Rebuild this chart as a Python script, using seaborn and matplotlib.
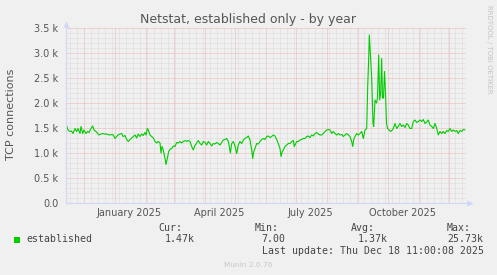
import numpy as np
import pandas as pd
import matplotlib
matplotlib.use("Agg")
import matplotlib.pyplot as plt
import matplotlib.dates as mdates
from matplotlib.ticker import MultipleLocator, FuncFormatter, NullFormatter
from matplotlib.patches import Rectangle
import seaborn as sns

# ---------------- data ----------------
start_date = "2024-11-13"
end_date = "2025-12-18"

day_offset = [
    1.2, 2.5, 4.5, 6.0, 7.5, 9.5, 11.2, 12.5, 14.5, 15.5, 17.2, 18.5, 20.5, 22.2, 23.5,
    25.5, 27.2, 28.5, 30.5, 32.2, 33.5, 35.5, 37.2, 38.5, 40.5, 42.5, 44.5, 46.5, 47.8,
    49.5, 51.2, 52.5, 54.5, 56.2, 57.5, 59.5, 61.2, 62.8, 64.5, 66.2, 67.8, 69.5, 71.2,
    72.8, 74.5, 76.2, 77.8, 79.5, 80.5, 81.8, 82.8, 84.5, 86.2, 87.8, 89.5, 91.2, 92.8,
    94.5, 95.5, 96.5, 97.8, 98.8, 99.8, 100.5, 101.8, 103.2, 104.5, 106.2, 107.8, 109.5,
    111.2, 112.8, 114.5, 116.2, 117.8, 119.5, 121.2, 122.8, 124.5, 126.2, 127.8, 129.5,
    131.2, 132.8, 134.5, 136.2, 137.8, 139.5, 141.2, 142.8, 144.5, 146.2, 147.8, 149.5,
    151.2, 152.8, 154.5, 156.2, 157.8, 159.5, 161.2, 162.8, 163.8, 164.8, 166.2, 167.8,
    169.5, 171.2, 172.8, 174.5, 176.2, 177.8, 179.5, 181.2, 182.8, 184.5, 186.2, 187.2,
    188.2, 189.5, 191.2, 192.8, 194.5, 196.2, 197.8, 199.5, 201.2, 202.8, 204.5, 206.2,
    207.8, 209.5, 211.2, 212.8, 214.5, 215.5, 216.8, 217.8, 219.5, 221.2, 222.8, 224.5,
    226.2, 227.8, 228.8, 230.2, 231.2, 232.8, 234.5, 236.2, 237.8, 239.5, 241.2, 242.8,
    244.5, 246.2, 247.8, 249.5, 251.2, 252.8, 254.5, 256.2, 257.8, 259.5, 261.2, 262.8,
    264.5, 266.2, 267.8, 269.5, 271.2, 272.8, 274.5, 276.2, 277.8, 279.5, 281.2, 282.8,
    284.5, 286.2, 287.2, 288.5, 289.5, 291.2, 292.8, 294.5, 296.2, 297.8, 299.5, 301.2,
    302.2, 303.2, 303.8, 305.2, 306.2, 307.5, 308.2, 309.5, 311.0, 312.0, 313.2, 314.2,
    315.2, 316.2, 317.0, 318.0, 319.0, 320.0, 321.0, 322.0, 323.5, 325.2, 326.8, 327.8,
    329.5, 331.2, 332.8, 334.5, 336.2, 337.8, 339.5, 341.2, 342.8, 344.5, 346.2, 347.8,
    349.5, 351.2, 352.8, 354.5, 356.2, 357.8, 359.5, 361.2, 362.8, 364.5, 366.2, 367.8,
    369.5, 371.2, 372.8, 374.5, 376.2, 377.8, 379.5, 381.2, 382.8, 384.5, 386.2, 387.8,
    389.5, 391.2, 392.8, 394.5, 396.2, 397.8, 399.5,
]

conn_k = [
    1.54, 1.46, 1.43, 1.44, 1.39, 1.49, 1.43, 1.49, 1.39, 1.53, 1.39, 1.46, 1.39, 1.43, 1.41,
    1.49, 1.54, 1.46, 1.43, 1.39, 1.36, 1.38, 1.39, 1.38, 1.38, 1.37, 1.36, 1.37, 1.36,
    1.29, 1.33, 1.36, 1.38, 1.39, 1.33, 1.35, 1.27, 1.23, 1.27, 1.30, 1.33, 1.36, 1.30,
    1.38, 1.33, 1.38, 1.35, 1.41, 1.36, 1.49, 1.46, 1.36, 1.33, 1.30, 1.23, 1.20, 1.23,
    1.20, 1.00, 1.13, 1.06, 0.96, 0.86, 0.77, 0.89, 1.03, 1.07, 1.09, 1.14, 1.13,
    1.21, 1.20, 1.23, 1.20, 1.23, 1.25, 1.23, 1.25, 1.23, 1.13, 1.06, 1.15,
    1.20, 1.25, 1.19, 1.16, 1.23, 1.21, 1.16, 1.23, 1.19, 1.14, 1.19, 1.18,
    1.21, 1.19, 1.16, 1.21, 1.26, 1.27, 1.29, 1.23, 1.13, 1.00, 1.19, 1.23,
    1.14, 0.99, 1.16, 1.23, 1.19, 1.26, 1.29, 1.31, 1.34, 1.26, 1.06, 0.89,
    1.03, 1.09, 1.19, 1.18, 1.23, 1.27, 1.29, 1.27, 1.33, 1.34, 1.31, 1.33,
    1.36, 1.34, 1.27, 1.19, 1.09, 0.93, 1.03, 1.06, 1.13, 1.16, 1.19, 1.19,
    1.23, 1.25, 1.13, 1.19, 1.23, 1.23, 1.26, 1.27, 1.29, 1.29, 1.33, 1.34,
    1.31, 1.36, 1.34, 1.39, 1.41, 1.38, 1.36, 1.36, 1.39, 1.43, 1.46, 1.47,
    1.46, 1.39, 1.43, 1.39, 1.36, 1.39, 1.36, 1.37, 1.33, 1.36, 1.39, 1.36,
    1.33, 1.23, 1.13, 1.29, 1.33, 1.39, 1.36, 1.39, 1.43, 1.29, 1.46, 1.49,
    2.33, 2.90, 3.36, 2.86, 2.50, 1.60, 1.53, 2.06, 2.00, 2.10, 2.96, 2.06,
    2.20, 2.89, 2.10, 2.10, 2.63, 2.20, 1.60, 1.49, 1.46, 1.43, 1.46, 1.49,
    1.59, 1.49, 1.53, 1.59, 1.53, 1.56, 1.51, 1.59, 1.56, 1.49, 1.49, 1.63,
    1.66, 1.61, 1.63, 1.66, 1.63, 1.67, 1.59, 1.62, 1.66, 1.56, 1.53, 1.49,
    1.59, 1.49, 1.36, 1.43, 1.39, 1.43, 1.39, 1.45, 1.43, 1.49, 1.43, 1.46,
    1.43, 1.45, 1.39, 1.45, 1.43, 1.47, 1.46,
]

x_label_dates = ["2025-01-16", "2025-04-16", "2025-07-16", "2025-10-16"]
x_label_texts = ["January 2025", "April 2025", "July 2025", "October 2025"]

legend_name = "established"
cur_val, min_val, avg_val, max_val = "1.47k", "7.00", "1.37k", "25.73k"
last_update = "Last update: Thu Dec 18 11:00:08 2025"

# ---------------- style ----------------
BG = "#f0f0f0"
GREEN = "#00cc00"
MGRID = "#ecb4b4"
GRID = "#dadada"
AXISC = "#cfd6f8"
FONTC = "#555555"
W, H = 497, 275

sns.set_style("white")
plt.rcParams["font.family"] = ["DejaVu Sans"]

fig = plt.figure(figsize=(W / 100, H / 100), dpi=100, facecolor=BG)
ax = fig.add_axes([65.5 / W, (H - 203) / H, 400 / W, 175 / H])
ax.set_facecolor(BG)

start = pd.Timestamp(start_date)
end = pd.Timestamp(end_date)
df = pd.DataFrame({
    "date": start + pd.to_timedelta(np.array(day_offset), unit="D"),
    "conn": np.array(conn_k) * 1000.0,
})
sns.lineplot(data=df, x="date", y="conn", ax=ax, color=GREEN, lw=0.8, zorder=5)

ax.set_xlim(start, end)
ax.set_ylim(0, 3500)
ax.set_xlabel("")
ax.set_ylabel("")

ax.yaxis.set_major_locator(MultipleLocator(500))
ax.yaxis.set_minor_locator(MultipleLocator(100))
ax.yaxis.set_major_formatter(FuncFormatter(lambda v, p: "0.0" if v == 0 else f"{v/1000:.1f} k"))
ax.xaxis.set_major_locator(mdates.MonthLocator())
ax.xaxis.set_minor_locator(mdates.WeekdayLocator(byweekday=mdates.SU))
ax.xaxis.set_major_formatter(NullFormatter())

dot = (0, (1, 1))
ax.grid(which="minor", color=GRID, linestyle=dot, lw=0.72)
ax.grid(which="major", color=MGRID, linestyle=dot, lw=0.72)
ax.set_axisbelow(True)

ax.tick_params(axis="x", which="major", length=2, width=0.72, color=MGRID, labelbottom=False)
ax.tick_params(axis="x", which="minor", length=2, width=0.72, color=GRID, labelbottom=False)
ax.tick_params(axis="y", which="major", length=3, width=0.72, color=MGRID,
               labelsize=7, labelcolor=FONTC, pad=2.2)
ax.tick_params(axis="y", which="minor", length=3, width=0.72, color=GRID)

sec = ax.secondary_xaxis("bottom")
sec.set_xticks(mdates.date2num(pd.to_datetime(x_label_dates)), labels=x_label_texts)
sec.tick_params(length=0, labelsize=7, labelcolor=FONTC, pad=3.5)
sec.spines["bottom"].set_visible(False)

for s in ["top", "right"]:
    ax.spines[s].set_visible(False)
for s in ["left", "bottom"]:
    ax.spines[s].set_color(AXISC)
    ax.spines[s].set_linewidth(0.8)
    ax.spines[s].set_zorder(6)

# axis arrows
ax.plot([0, 0], [1.0, 1.025], transform=ax.transAxes, color=AXISC, lw=0.8, clip_on=False, zorder=6)
ax.plot([0], [1.025], marker="^", ms=4.5, color=AXISC, mec="none", transform=ax.transAxes,
        clip_on=False, zorder=6)
ax.plot([1.0, 1.01], [0, 0], transform=ax.transAxes, color=AXISC, lw=0.8, clip_on=False, zorder=6)
ax.plot([1.01], [0], marker=">", ms=4.5, color=AXISC, mec="none", transform=ax.transAxes,
        clip_on=False, zorder=6)

def px(x, y):
    return x / W, 1 - y / H

fig.text(*px(248.5, 23.5), "Netstat, established only - by year", ha="center", va="baseline",
         fontsize=9, color=FONTC)
fig.text(*px(11, 114), "TCP connections", rotation=90, ha="center", va="center",
         fontsize=8, color=FONTC)
fig.text(*px(488.5, 5), "RRDTOOL / TOBI OETIKER", rotation=270, ha="center", va="top",
         fontsize=5, color="#c4c4c4")

mono = dict(family="DejaVu Sans Mono", fontsize=7.1, color="#444444", va="baseline")
fig.add_artist(Rectangle(px(14, 242.5), 6 / W, 6 / H, transform=fig.transFigure,
                         color=GREEN, lw=0))
fig.text(*px(26, 242.5), legend_name, **mono)
fig.text(*px(158, 231), "Cur:", **mono)
fig.text(*px(165, 242.5), cur_val, **mono)
fig.text(*px(254.7, 231), "Min:", **mono)
fig.text(*px(261, 242.5), min_val, **mono)
fig.text(*px(351, 231), "Avg:", **mono)
fig.text(*px(357.3, 242.5), avg_val, **mono)
fig.text(*px(446.7, 231), "Max:", **mono)
fig.text(*px(447.3, 242.5), max_val, **mono)
fig.text(*px(261.7, 254), last_update, **mono)
fig.text(*px(248.5, 267), "Munin 2.0.76", ha="center", va="baseline", fontsize=5.3,
         color="#c8c8c8")

fig.savefig("out.png", dpi=100, facecolor=BG)
